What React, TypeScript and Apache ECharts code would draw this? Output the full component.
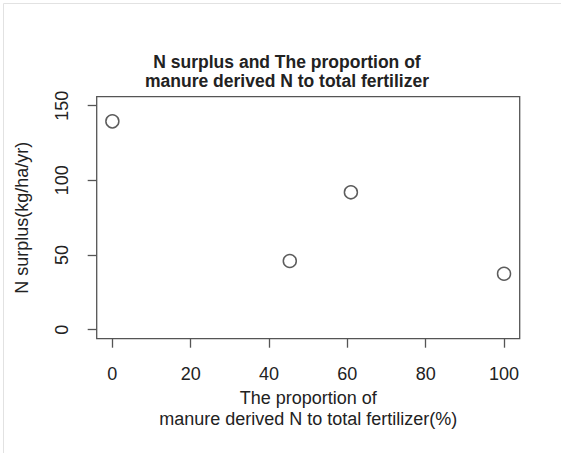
import React, { useEffect, useRef } from "react";
import * as echarts from "echarts";

const xValues = [0, 45.3, 60.9, 100];
const yValues = [139.5, 46, 92, 37.5];
const xTicks = [0, 20, 40, 60, 80, 100];
const yTicks = [0, 50, 100, 150];
const titleText = "N surplus and The proportion of\nmanure derived N to total fertilizer";
const xLabel = "The proportion of\nmanure derived N to total fertilizer(%)";
const yLabel = "N surplus(kg/ha/yr)";

const FONT = "'Liberation Sans', Arial, Helvetica, sans-serif";
const INK = "#222";
const LINE = "#555";

export default function App() {
  const ref = useRef<HTMLDivElement>(null);
  useEffect(() => {
    if (!ref.current) return;
    const chart = echarts.init(ref.current, undefined, { renderer: "svg" });
    chart.setOption({
      animation: false,
      backgroundColor: "#fff",
      title: {
        text: titleText,
        left: 287,
        top: 53,
        textAlign: "center",
        padding: 0,
        textStyle: {
          fontFamily: FONT,
          fontSize: 17.5,
          fontWeight: "bold",
          color: INK,
          lineHeight: 18.5,
        },
      },
      graphic: [
        { type: "line", shape: { x1: 3.5, y1: 3.5, x2: 561, y2: 3.5 }, style: { stroke: "#e2e2e2", lineWidth: 1 } },
        { type: "line", shape: { x1: 3.5, y1: 3.5, x2: 3.5, y2: 453 }, style: { stroke: "#e2e2e2", lineWidth: 1 } },
      ],
      grid: {
        left: 96.7,
        right: 41.3,
        top: 96.7,
        bottom: 114.3,
        show: true,
        borderColor: LINE,
        borderWidth: 1.3,
        backgroundColor: "transparent",
      },
      xAxis: {
        type: "value",
        min: -4,
        max: 104,
        splitLine: { show: false },
        axisLine: { show: false, onZero: false },
        axisTick: { show: true, inside: false, length: 9, customValues: xTicks, lineStyle: { color: LINE, width: 1.3 } },
        axisLabel: {
          customValues: xTicks,
          margin: 26,
          fontFamily: FONT,
          fontSize: 18,
          color: INK,
        },
        name: xLabel,
        nameLocation: "middle",
        nameGap: 45,
        nameTextStyle: { fontFamily: FONT, fontSize: 18, color: INK, lineHeight: 21 },
      },
      yAxis: {
        type: "value",
        min: -6,
        max: 156,
        splitLine: { show: false },
        axisLine: { show: false, onZero: false },
        axisTick: { show: true, inside: false, length: 9, customValues: yTicks, lineStyle: { color: LINE, width: 1.3 } },
        axisLabel: {
          customValues: yTicks,
          rotate: 90,
          margin: 26,
          fontFamily: FONT,
          fontSize: 18,
          color: INK,
        },
        name: yLabel,
        nameLocation: "middle",
        nameGap: 64,
        nameTextStyle: { fontFamily: FONT, fontSize: 18, color: INK, lineHeight: 21 },
      },
      series: [
        {
          type: "scatter",
          data: xValues.map((x, i) => [x, yValues[i]]),
          symbol: "circle",
          symbolSize: 13,
          itemStyle: { color: "transparent", borderColor: "#333", borderWidth: 1.5 },
        },
      ],
    });
    return () => chart.dispose();
  }, []);
  return (
    <div
      ref={ref}
      style={{ position: "fixed", left: 0, top: 0, width: 561, height: 453, background: "#fff" }}
    />
  );
}
